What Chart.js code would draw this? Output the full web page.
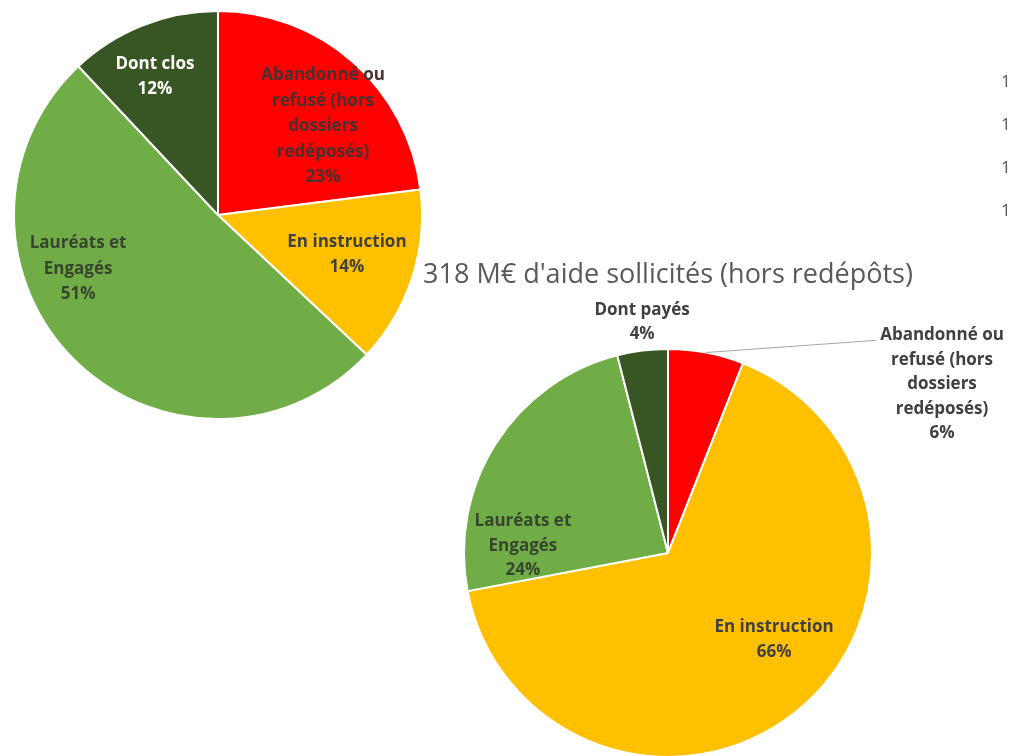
<!DOCTYPE html>
<html>
<head>
<meta charset="utf-8">
<script src="https://cdn.jsdelivr.net/npm/chart.js@4.4.1/dist/chart.umd.min.js"></script>
<style>
  html, body { margin: 0; padding: 0; background: #fff; overflow: hidden; width: 1009px; height: 756px; }
  canvas { position: absolute; }
</style>
</head>
<body>
<canvas id="pieDossiers" width="436" height="430" style="left:0;top:0"></canvas>
<canvas id="pieMontants" width="680" height="551" style="left:328px;top:255px"></canvas>
<canvas id="axeVoisin" width="100" height="388" style="left:997px;top:60px"></canvas>
<script>
// données
const categoriesDossiers = [
  ["Abandonné ou", "refusé (hors", "dossiers", "redéposés)"],
  ["En instruction"],
  ["Lauréats et", "Engagés"],
  ["Dont clos"]
];
const partsDossiers = [23, 14, 51, 12];

const categoriesMontants = [
  ["Abandonné ou", "refusé (hors", "dossiers", "redéposés)"],
  ["En instruction"],
  ["Lauréats et", "Engagés"],
  ["Dont payés"]
];
const partsMontants = [6, 66, 24, 4];

const titreMontants = "318 M€ d'aide sollicités (hors redépôts)";

// graduations du graphique voisin (coupé au bord droit)
const graduationsVoisin = [160, 140, 120, 100, 80, 60, 40, 20, 0];

const couleurs = ["#FF0000", "#FFC000", "#70AD47", "#375623"];
const texteFonce = "#404040";

// étiquettes dessinées à la main (pas de plugin datalabels)
const etiquettes = {
  id: "etiquettes",
  afterDatasetsDraw(chart, args, opts) {
    const ctx = chart.ctx;
    const meta = chart.getDatasetMeta(0);
    const valeurs = chart.data.datasets[0].data;
    meta.data.forEach((arc, i) => {
      const p = arc.getProps(["x", "y", "startAngle", "endAngle", "outerRadius"], true);
      const pl = opts.placement[i];
      const milieu = (p.startAngle + p.endAngle) / 2;
      const a = milieu + pl.dAngle * Math.PI / 180;
      const d = p.outerRadius * pl.dist;
      const cx = p.x + Math.cos(a) * d;
      const cy = p.y + Math.sin(a) * d;
      const lignes = [...opts.lignes[i], valeurs[i] + "%"];
      ctx.save();
      ctx.font = opts.police;
      ctx.fillStyle = pl.couleur || texteFonce;
      ctx.textAlign = "center";
      ctx.textBaseline = "middle";
      const haut = cy - (lignes.length - 1) / 2 * opts.interligne;
      lignes.forEach((t, k) => ctx.fillText(t, cx, haut + k * opts.interligne));
      if (pl.repere) {
        const w = Math.max(...lignes.map(t => ctx.measureText(t).width));
        ctx.beginPath();
        ctx.moveTo(p.x + Math.cos(milieu) * p.outerRadius, p.y + Math.sin(milieu) * p.outerRadius);
        ctx.lineTo(cx - w / 2 - 4, haut + 5);
        ctx.strokeStyle = "#a6a6a6";
        ctx.lineWidth = 1;
        ctx.stroke();
      }
      ctx.restore();
    });
  }
};

const policeEtiquette = "bold 17px 'Open Sans', sans-serif";

new Chart(document.getElementById("pieDossiers"), {
  type: "pie",
  data: {
    labels: categoriesDossiers.map(l => l.join(" ")),
    datasets: [{ data: partsDossiers, backgroundColor: couleurs, borderColor: "#fff", borderWidth: 2 }]
  },
  options: {
    responsive: false,
    animation: false,
    events: [],
    radius: 204,
    layout: { padding: 0 },
    plugins: {
      legend: { display: false },
      tooltip: { enabled: false },
      etiquettes: {
        lignes: categoriesDossiers,
        police: policeEtiquette,
        interligne: 25.5,
        placement: [
          { dAngle: 8.5, dist: 0.673, couleur: "#4a3030" },
          { dAngle: -1, dist: 0.661 },
          { dAngle: 23.9, dist: 0.735, couleur: "#38452e" },
          { dAngle: -2.9, dist: 0.746, couleur: "#ffffff" }
        ]
      }
    }
  },
  plugins: [etiquettes]
});

new Chart(document.getElementById("pieMontants"), {
  type: "pie",
  data: {
    labels: categoriesMontants.map(l => l.join(" ")),
    datasets: [{ data: partsMontants, backgroundColor: couleurs, borderColor: "#fff", borderWidth: 2 }]
  },
  options: {
    responsive: false,
    animation: false,
    events: [],
    radius: 204,
    layout: { padding: 0 },
    plugins: {
      legend: { display: false },
      tooltip: { enabled: false },
      title: {
        display: true,
        text: titreMontants,
        color: "#595959",
        font: { family: "'Open Sans', sans-serif", size: 27, weight: "normal", lineHeight: 1.2 },
        padding: { top: 4, bottom: 8.4 }
      },
      etiquettes: {
        lignes: categoriesMontants,
        police: policeEtiquette,
        interligne: 24.5,
        placement: [
          { dAngle: 47.6, dist: 1.577, repere: true },
          { dAngle: -11.2, dist: 0.671 },
          { dAngle: -29.6, dist: 0.712, couleur: "#38452e" },
          { dAngle: 0.8, dist: 1.137 }
        ]
      }
    }
  },
  plugins: [etiquettes]
});

new Chart(document.getElementById("axeVoisin"), {
  type: "line",
  data: { labels: [""], datasets: [{ data: [] }] },
  options: {
    responsive: false,
    animation: false,
    events: [],
    layout: { padding: { top: 22, bottom: 22, left: 0, right: 0 } },
    plugins: { legend: { display: false }, tooltip: { enabled: false } },
    scales: {
      x: { display: false },
      y: {
        min: graduationsVoisin[graduationsVoisin.length - 1],
        max: graduationsVoisin[0],
        grid: { display: false, drawTicks: false },
        border: { display: false },
        ticks: {
          stepSize: graduationsVoisin[0] - graduationsVoisin[1],
          padding: 4,
          color: "#595959",
          font: { family: "'Open Sans', sans-serif", size: 17 }
        }
      }
    }
  }
});
</script>
</body>
</html>
